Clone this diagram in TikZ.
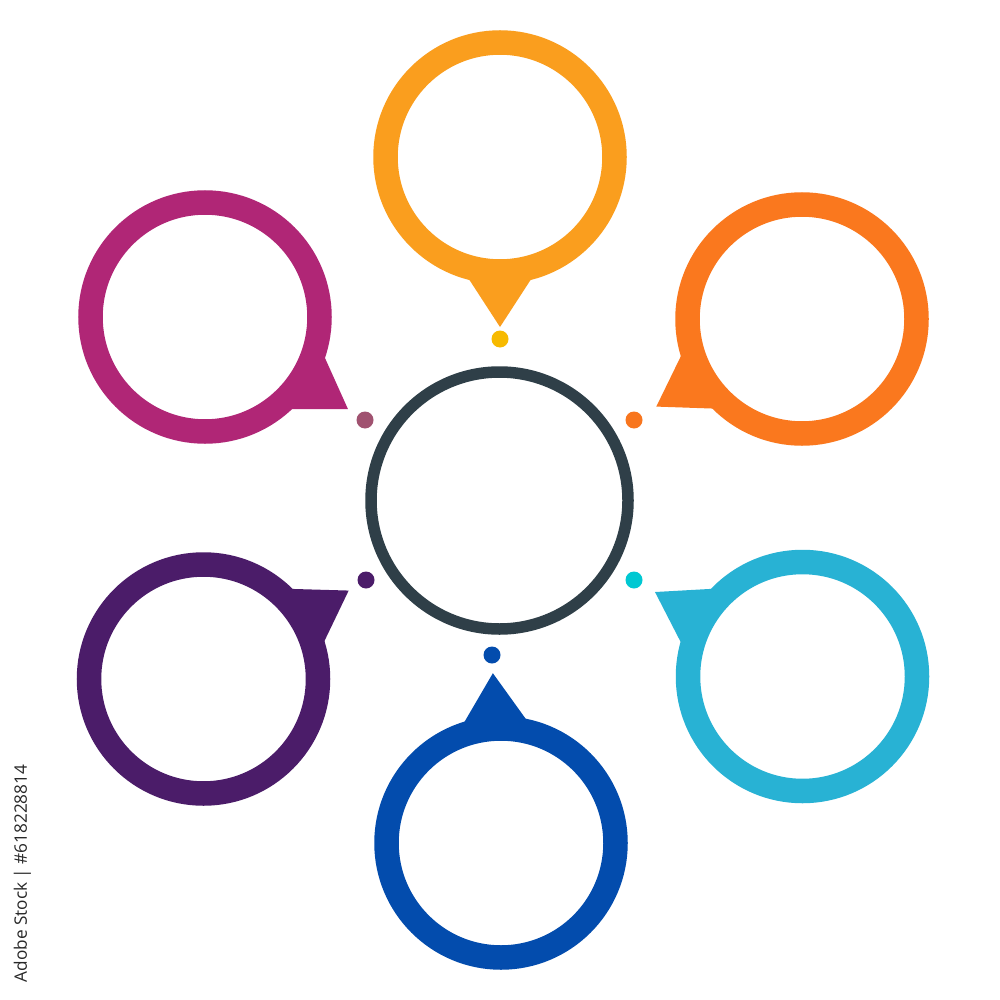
\documentclass[tikz,border=0pt]{standalone}
\usepackage{fontspec}
\newfontfamily\wmfont{Open Sans}
\usetikzlibrary{calc}
\definecolor{cCenter}{RGB}{47,63,72}
\definecolor{rYel}{RGB}{250,158,30}
\definecolor{dYel}{RGB}{247,186,0}
\definecolor{rOra}{RGB}{250,120,30}
\definecolor{dOra}{RGB}{248,118,30}
\definecolor{rCya}{RGB}{40,178,212}
\definecolor{dCya}{RGB}{0,200,210}
\definecolor{rBlu}{RGB}{3,76,173}
\definecolor{dBlu}{RGB}{3,76,173}
\definecolor{rVio}{RGB}{75,28,105}
\definecolor{dVio}{RGB}{75,28,105}
\definecolor{rMag}{RGB}{176,38,118}
\definecolor{dMag}{RGB}{160,82,112}
\definecolor{wmgray}{RGB}{40,40,40}
\tikzset{
  ringline/.style={line width=24.5pt},
  hubline/.style={cCenter, line width=11.5pt},
  wmtext/.style={rotate=90, anchor=base, text=wmgray, inner sep=0pt,
    font=\wmfont\fontsize{17.2}{17.2}\selectfont}
}
\begin{document}
\begin{tikzpicture}[x=1pt,y=-1pt]
\fill[white] (0,0) rectangle (1000,1000);
\useasboundingbox (0,0) rectangle (1000,1000);
\coordinate (hub) at (499.5,500.5);
\draw[hubline] (hub) circle[radius=128.5pt];
\foreach \cx/\cy/\dx/\dy/\rc/\dc/\nm in {
  500/157/500/339/rYel/dYel/a,
  802/319/634/420/rOra/dOra/b,
  802.5/676.5/634/580/rCya/dCya/c,
  501/843/492/655/rBlu/dBlu/d,
  203.5/679/366/580/rVio/dVio/e,
  205/317/365/420/rMag/dMag/f}{
  \coordinate (C\nm) at (\cx,\cy);
  \coordinate (D\nm) at (\dx,\dy);
  \coordinate (T\nm) at ($(C\nm)!170pt!(D\nm)$);
  \draw[\rc, ringline] (C\nm) circle[radius=114.5pt];
  \fill[\rc] (T\nm) -- ($(T\nm)!70pt!33:(C\nm)$) -- ($(T\nm)!70pt!-33:(C\nm)$) -- cycle;
  \fill[\dc] (D\nm) circle[radius=8.5pt];
}
\node[wmtext] (wm) at (27,873.5) {Adobe Stock | \#618228814};
\end{tikzpicture}
\end{document}
